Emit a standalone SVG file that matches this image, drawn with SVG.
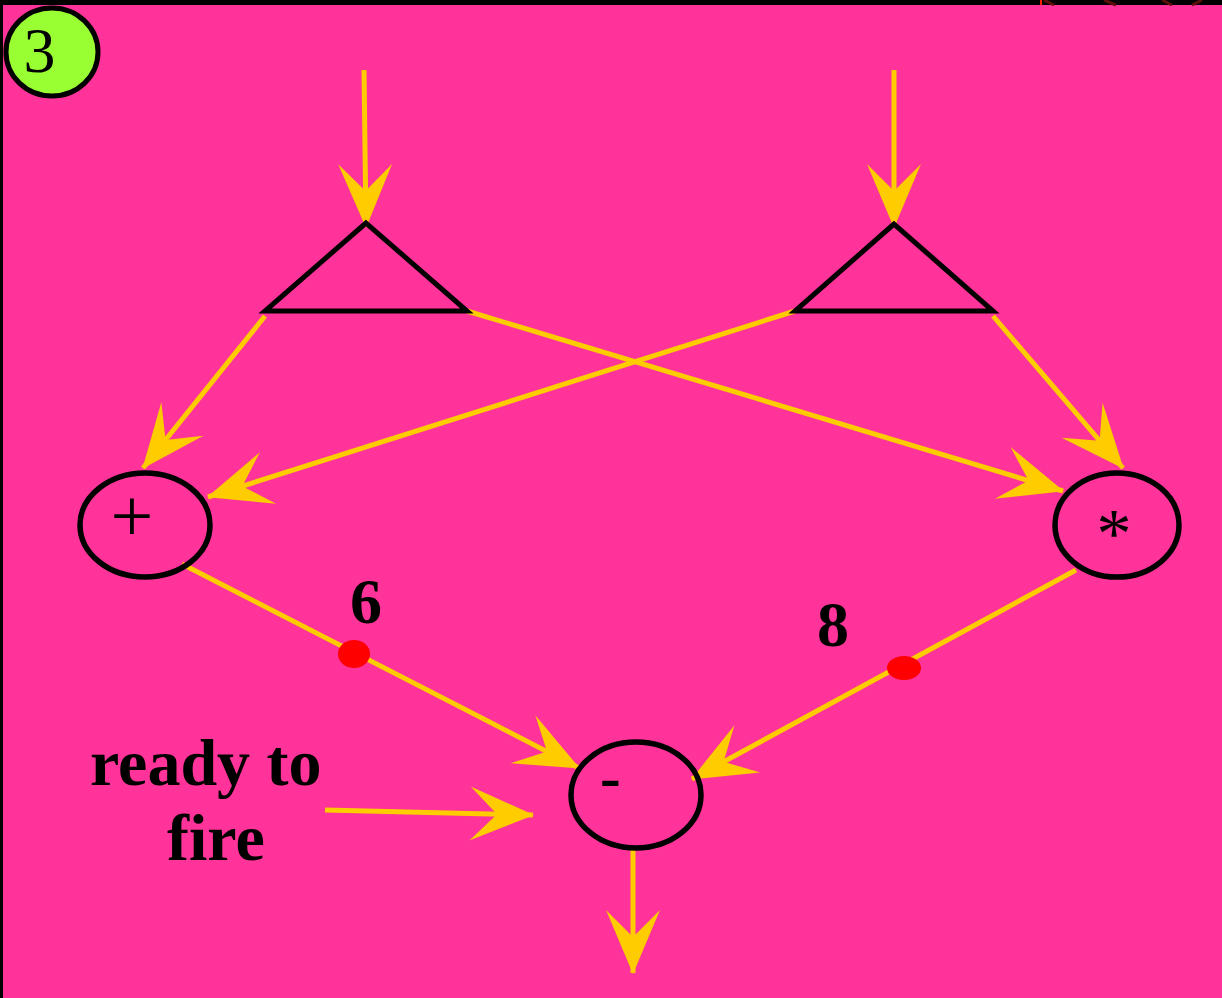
<svg xmlns="http://www.w3.org/2000/svg" width="1222" height="998" viewBox="0 0 1222 998">
<style>
.conn{stroke:#FFCC00;stroke-width:5;fill:none;marker-end:url(#ah)}
.node{fill:none;stroke:#000;stroke-width:5.5}
.tri{fill:none;stroke:#000;stroke-width:5;stroke-linejoin:miter}
.lbl{font-family:"Liberation Serif","Times New Roman",serif;fill:#000}
.b{font-weight:bold}
.tok{fill:#FF0000}
</style>
<defs>
<marker id="ah" viewBox="-66 -29 68 58" refX="0" refY="0" markerWidth="68" markerHeight="58" markerUnits="userSpaceOnUse" orient="auto">
<path d="M1,0 L-63,-27 L-36,0 L-63,27 Z" fill="#FFCC00"/>
</marker>
</defs>
<rect x="0" y="0" width="1222" height="998" fill="#000"/>
<rect x="3" y="5" width="1219" height="993" fill="#FF3399"/>
<g id="topright-fragment" stroke="#5A1008" stroke-width="3" fill="none">
<line x1="1041" y1="0" x2="1041" y2="5" stroke="#FF2000" stroke-width="2"/>
<line x1="1044" y1="0" x2="1054" y2="5"/>
<line x1="1104" y1="0" x2="1116" y2="5"/>
<line x1="1162" y1="0" x2="1172" y2="5"/>
<line x1="1202" y1="0" x2="1192" y2="5"/>
</g>
<g id="connectors">
<line class="conn" x1="364" y1="70" x2="366" y2="227"/>
<line class="conn" x1="894" y1="70" x2="894" y2="227"/>
<line class="conn" x1="265" y1="316" x2="143" y2="468"/>
<line class="conn" x1="795" y1="311" x2="208" y2="497"/>
<line class="conn" x1="467" y1="311" x2="1063" y2="491"/>
<line class="conn" x1="993" y1="316" x2="1123" y2="468"/>
<line class="conn" x1="182" y1="564" x2="579" y2="768"/>
<line class="conn" x1="1076" y1="570" x2="692" y2="779"/>
<line class="conn" x1="325" y1="810" x2="533" y2="815"/>
<line class="conn" x1="633" y1="847" x2="633" y2="973"/>
</g>
<g id="step-badge">
<ellipse cx="52" cy="52" rx="46" ry="44" fill="#99FF33" stroke="#000" stroke-width="5"/>
<text class="lbl" x="39.5" y="72" font-size="64" text-anchor="middle">3</text>
</g>
<g id="copy-left">
<path class="tri" d="M366,223 L265,311 L467,311 Z"/>
</g>
<g id="copy-right">
<path class="tri" d="M894,224 L795,311 L993,311 Z"/>
</g>
<g id="node-plus">
<ellipse class="node" cx="145" cy="525" rx="65" ry="52"/>
<text class="lbl" x="132" y="541" font-size="76" text-anchor="middle">+</text>
</g>
<g id="node-times">
<ellipse class="node" cx="1117" cy="525" rx="62" ry="52"/>
<text class="lbl" x="1114" y="557" font-size="70" text-anchor="middle">*</text>
</g>
<g id="node-minus">
<ellipse class="node" cx="636" cy="795" rx="65" ry="53"/>
<text class="lbl b" x="600" y="798" font-size="62">-</text>
</g>
<g id="token-6">
<ellipse class="tok" cx="354" cy="654" rx="16" ry="14"/>
<text class="lbl b" x="366" y="623" font-size="64" text-anchor="middle">6</text>
</g>
<g id="token-8">
<ellipse class="tok" cx="904" cy="668" rx="17" ry="12"/>
<text class="lbl b" x="833" y="646" font-size="64" text-anchor="middle">8</text>
</g>
<g id="label-ready">
<text class="lbl b" x="90" y="785" font-size="66">ready to</text>
<text class="lbl b" x="167" y="860" font-size="66">fire</text>
</g>
</svg>
